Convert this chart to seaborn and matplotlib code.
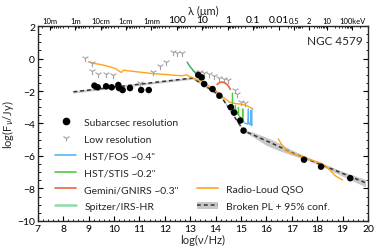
import numpy as np
import pandas as pd
import seaborn as sns
import matplotlib.pyplot as plt
from matplotlib.lines import Line2D
from matplotlib.patches import Patch

# --- data ---
sub_x = [9.23, 9.36, 9.69, 9.91, 10.17, 10.2, 10.34, 10.63, 11.07, 11.37,
         13.32, 13.45, 13.55, 13.88, 14.15, 14.6, 14.73, 14.97, 15.1,
         17.48, 18.15, 19.3]
sub_y = [-1.67, -1.77, -1.71, -1.77, -1.63, -1.82, -1.94, -1.82, -1.94, -1.94,
         -1.02, -1.16, -1.57, -1.88, -2.29, -3.0, -3.33, -3.82, -4.44,
         -6.23, -6.66, -7.37]

low_x = [8.86, 9.12, 9.12, 9.39, 9.67, 9.95, 11.03, 11.54, 11.82, 12.05, 12.31,
         12.5, 12.69, 13.2, 13.4, 13.55, 13.75, 13.95, 14.15, 14.35, 14.5,
         14.75, 14.85, 15.0, 15.15]
low_y = [0.04, -0.28, -0.75, -0.93, -0.93, -1.0, -1.52, -0.83, -0.47, -0.22, 0.38,
         0.34, 0.34, -0.8, -0.85, -0.88, -0.95, -1.05, -1.2, -1.28, -1.3,
         -1.95, -2.2, -2.7, -2.72]

fos_x = [14.98, 15.02, 15.06, 15.1, 15.14, 15.18, 15.22, 15.26, 15.28, 15.29,
         15.3, 15.33, 15.36, 15.38, 15.39, 15.4, 15.42, 15.43, 15.43]
fos_y = [-3.7, -3.75, -3.8, -3.9, -3.95, -4.0, -4.02, -4.05, -3.6, -3.1,
         -4.0, -4.05, -4.08, -3.8, -3.2, -4.05, -4.1, -4.13, -3.1]

stis_x = [14.6, 14.63, 14.655, 14.665, 14.675, 14.7, 14.73, 14.76, 14.78, 14.8,
          14.83, 14.86, 14.89, 14.9, 14.91, 14.94, 14.97, 15.0, 15.03, 15.06,
          15.07, 15.08, 15.1]
stis_y = [-2.95, -3.0, -3.02, -2.12, -3.05, -3.1, -3.15, -3.2, -2.9, -3.25,
          -3.3, -3.38, -3.45, -3.0, -3.5, -3.55, -3.6, -3.65, -3.7, -3.75,
          -3.1, -3.8, -3.85]

gnirs_x = [14.06, 14.12, 14.18, 14.24, 14.3, 14.36, 14.42, 14.48, 14.54, 14.58]
gnirs_y = [-1.6, -1.52, -1.47, -1.45, -1.46, -1.5, -1.56, -1.65, -1.78, -1.9]

irs_x = [12.88, 12.95, 13.02, 13.08, 13.14, 13.2, 13.26, 13.32, 13.38, 13.44, 13.5, 13.56]
irs_y = [-0.22, -0.4, -0.55, -0.66, -0.78, -0.88, -0.95, -1.02, -1.1, -1.15, -1.2, -1.25]

qso1_x = [8.99, 9.2, 9.45, 9.7, 9.91, 10.1, 10.24, 10.3, 10.37, 10.8, 11.2, 11.55,
          12.0, 12.47, 12.7, 12.85, 13.0, 13.13, 13.26, 13.39, 13.52, 13.7, 13.91,
          14.1, 14.3, 14.57, 14.8, 14.96, 15.1, 15.22, 15.35, 15.46]
qso1_y = [-0.2, -0.3, -0.36, -0.45, -0.54, -0.65, -0.82, -0.85, -0.72, -0.8, -0.87, -0.93,
          -0.98, -1.04, -1.06, -1.0, -1.12, -1.2, -1.3, -1.36, -1.47, -1.65, -1.84,
          -2.1, -2.39, -2.7, -2.78, -2.8, -2.84, -2.9, -3.0, -3.1]
qso2_x = [16.47, 16.6, 16.8, 17.06, 17.3, 17.59, 17.85, 18.11, 18.25, 18.38, 18.55, 18.7, 18.85, 19.0]
qso2_y = [-4.95, -5.3, -5.67, -5.88, -6.0, -6.15, -6.3, -6.43, -6.55, -6.7, -6.95, -7.21, -7.35, -7.48]

pl_x = [8.4, 13.1, 14.2, 15.1, 16.3, 17.0, 19.9]
pl_y = [-2.05, -1.2, -2.3, -4.44, -5.28, -5.8, -7.65]
band_x = [8.4, 13.1, 14.2, 15.1, 15.5, 16.0, 16.3, 16.9, 17.5, 18.2, 19.0, 19.9]
band_lo = [-2.12, -1.27, -2.38, -4.5, -4.85, -5.35, -5.55, -5.9, -6.2, -6.65, -7.25, -7.9]
band_hi = [-1.98, -1.13, -2.22, -4.38, -4.55, -4.85, -5.05, -5.55, -6.0, -6.45, -6.95, -7.45]

wl_labels = ['10m', '1m', '10cm', '1cm', '1mm', '100', '10', '1', '0.1', '0.01']
wl_m = [10, 1, 0.1, 0.01, 1e-3, 1e-4, 1e-5, 1e-6, 1e-7, 1e-8]
kev_labels = ['0.5', '2', '10', '100keV']
kev = [0.5, 2, 10, 100]

C_FOS, C_STIS, C_GNIRS, C_IRS = '#5ab4f5', '#52c93f', '#f0623a', '#8fd9aa'
C_QSO = '#ffa31a'

sns.set_style('ticks')
plt.rcParams['font.family'] = ['Lato', 'DejaVu Sans']

fig = plt.figure(figsize=(3.74, 2.53), dpi=100)
ax = fig.add_axes([0.101, 0.123, 0.883, 0.77])

ax.fill_between(band_x, band_lo, band_hi, color='#c8c8c8', lw=0, zorder=1)
sns.lineplot(x=pl_x, y=pl_y, ax=ax, color='#333333', lw=1.1, ls=(0, (2.5, 2)),
             sort=False, estimator=None, zorder=2)
sns.lineplot(x=qso1_x, y=qso1_y, ax=ax, color=C_QSO, lw=1.0, sort=False, estimator=None, zorder=3)
sns.lineplot(x=qso2_x, y=qso2_y, ax=ax, color=C_QSO, lw=1.0, sort=False, estimator=None, zorder=3)
sns.lineplot(x=irs_x, y=irs_y, ax=ax, color='#2fa765', lw=1.0, sort=False, estimator=None, zorder=4)
sns.lineplot(x=gnirs_x, y=gnirs_y, ax=ax, color=C_GNIRS, lw=1.2, sort=False, estimator=None, zorder=4)
sns.lineplot(x=stis_x, y=stis_y, ax=ax, color=C_STIS, lw=0.9, sort=False, estimator=None, zorder=4)
sns.lineplot(x=fos_x, y=fos_y, ax=ax, color=C_FOS, lw=0.9, sort=False, estimator=None, zorder=4)
sns.scatterplot(x=low_x, y=low_y, ax=ax, marker='1', color='#a0a0a0', s=28,
                linewidth=0.8, zorder=3)
sns.scatterplot(x=sub_x, y=sub_y, ax=ax, color='black', s=22, edgecolor='none', zorder=5)

ax.set_xlim(7, 20)
ax.set_ylim(-10, 2)
ax.set_xticks(range(7, 21))
ax.set_xticks(np.arange(7, 20.01, 0.2), minor=True)
ax.set_yticks(range(-10, 3, 2))
ax.set_yticks(np.arange(-10, 2.01, 0.5), minor=True)
ax.set_yticklabels(['\u221210', '\u22128', '\u22126', '\u22124', '\u22122', '0', '2'])
ax.tick_params(which='both', direction='in', right=True, top=False, labelsize=7.5,
               pad=2, colors='black')
ax.tick_params(which='major', length=3.5, width=0.8)
ax.tick_params(which='minor', length=1.8, width=0.6)
for sp in ax.spines.values():
    sp.set_color('black')
    sp.set_linewidth(0.9)
ax.set_xlabel('log(\u03bd/Hz)', fontsize=8, labelpad=1)
ax.set_ylabel('log(F$_\\nu$/Jy)', fontsize=8, labelpad=1)

# top wavelength / energy axis
ax2 = ax.twiny()
ax2.set_xlim(7, 20)
c = 2.998e8
khz = 2.418e17
top_pos = [np.log10(c / w) for w in wl_m] + [np.log10(e * khz) for e in kev]
ax2.set_xticks(top_pos)
ax2.set_xticklabels(wl_labels + kev_labels)
minor = []
for w in wl_m:
    for k in range(2, 10):
        p = np.log10(c / (w * k))
        if 7 < p < 17.0:
            minor.append(p)
for e in [0.3, 0.4, 0.6, 0.7, 0.8, 0.9, 1, 3, 4, 5, 6, 7, 8, 9, 20, 30, 40, 50, 60, 70, 80, 90, 200]:
    p = np.log10(e * khz)
    if p < 20:
        minor.append(p)
ax2.set_xticks(minor, minor=True)
ax2.tick_params(which='both', direction='in', pad=1.5, colors='black')
ax2.tick_params(which='major', length=3, width=0.8, labelsize=5.5)
ax2.tick_params(which='minor', length=1.6, width=0.6)
for t, lab in zip(ax2.get_xticklabels(), wl_labels + kev_labels):
    if lab in ['100', '10', '1', '0.1', '0.01'] and t.get_position()[0] < 17:
        t.set_fontsize(7.5)
ax2.set_xlabel('\u03bb (\u03bcm)', fontsize=8, labelpad=1)

ax.text(0.985, 0.955, 'NGC 4579', transform=ax.transAxes, ha='right', va='top', fontsize=8.5)

h1 = [Line2D([], [], ls='none', marker='o', color='black', ms=4.5),
      Line2D([], [], ls='none', marker='1', color='#a0a0a0', ms=5, mew=0.8),
      Line2D([], [], color=C_FOS, lw=1.2),
      Line2D([], [], color=C_STIS, lw=1.2),
      Line2D([], [], color=C_GNIRS, lw=1.2),
      Line2D([], [], color=C_IRS, lw=1.8)]
l1 = ['Subarcsec resolution', 'Low resolution', 'HST/FOS ~0.4"', 'HST/STIS ~0.2"',
      'Gemini/GNIRS ~0.3"', 'Spitzer/IRS-HR']
leg1 = ax.legend(h1, l1, loc='lower left', bbox_to_anchor=(0.04, 0.03), frameon=False,
                 fontsize=7.5, handlelength=2.0, handletextpad=0.8, labelspacing=0.72,
                 borderaxespad=0)
ax.add_artist(leg1)
h2 = [Line2D([], [], color=C_QSO, lw=1.2),
      (Patch(color='#c8c8c8', lw=0), Line2D([], [], color='#333333', lw=1.1, ls=(0, (2.5, 2))))]
l2 = ['Radio-Loud QSO', 'Broken PL + 95% conf.']
ax.legend(h2, l2, loc='lower left', bbox_to_anchor=(0.47, 0.03), frameon=False,
          fontsize=7.5, handlelength=2.0, handletextpad=0.8, labelspacing=0.72,
          borderaxespad=0)

fig.savefig('out.png', dpi=100)
